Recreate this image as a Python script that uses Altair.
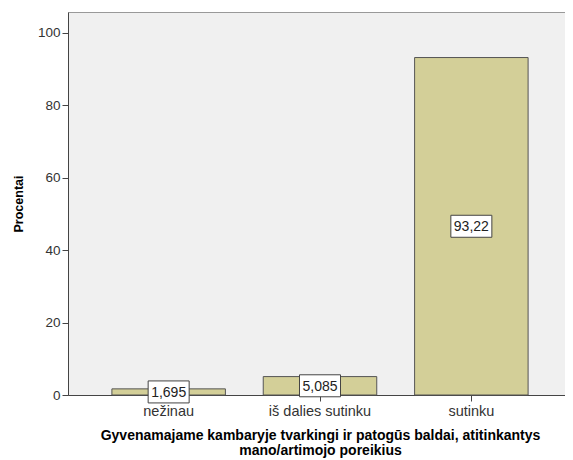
import altair as alt
import pandas as pd

categories = ["nežinau", "iš dalies sutinku", "sutinku"]
values = [1.695, 5.085, 93.22]
labels = ["1,695", "5,085", "93,22"]

df = pd.DataFrame({"cat": categories, "val": values, "lab": labels})
df["mid"] = df["val"] / 2

x_scale = alt.Scale(paddingInner=0.25, paddingOuter=0.29, range=[0, 504])

x_enc = alt.X(
    "cat:N",
    sort=categories,
    scale=x_scale,
    axis=alt.Axis(
        title=["Gyvenamajame kambaryje tvarkingi ir patogūs baldai, atitinkantys",
               "mano/artimojo poreikius"],
        labelAngle=0,
        labelFontSize=14.5,
        labelColor="#333333",
        labelPadding=3,
        tickSize=6,
        tickColor="#444444",
        domainColor="#444444",
        titleFontSize=14,
        titleFontWeight="bold",
        titleColor="#000000",
        titlePadding=11,
        titleLineHeight=14.5,
    ),
)
y_scale = alt.Scale(domain=[0, 105.8], nice=False, zero=True)

bars = alt.Chart(df).mark_bar(
    color="#D3CF98", stroke="#555555", strokeWidth=1
).encode(
    x=x_enc,
    y=alt.Y(
        "val:Q",
        scale=y_scale,
        axis=alt.Axis(
            title="Procentai",
            values=[0, 20, 40, 60, 80, 100],
            grid=False,
            labelFontSize=13.5,
            labelColor="#333333",
            labelPadding=2,
            tickSize=6,
            tickColor="#444444",
            domainColor="#444444",
            titleFontSize=12.5,
            titleFontWeight="bold",
            titleColor="#000000",
            titlePadding=12,
        ),
    ),
)

boxes = alt.Chart(df).mark_bar(
    width=41, fill="white", stroke="#444444", strokeWidth=1,
    yOffset=11, y2Offset=-11,
).encode(
    x=alt.X("cat:N", sort=categories, scale=x_scale),
    y=alt.Y("mid:Q", scale=y_scale),
    y2="mid:Q",
)

texts = alt.Chart(df).mark_text(
    fontSize=14, color="#222222", baseline="middle", align="center", dy=1
).encode(
    x=alt.X("cat:N", sort=categories, scale=x_scale),
    y=alt.Y("mid:Q", scale=y_scale),
    text="lab:N",
)

chart = (
    alt.layer(bars, boxes, texts)
    .properties(
        width=497,
        height=383,
        autosize=alt.AutoSizeParams(type="none"),
        padding={"left": 60, "top": 4, "right": 0, "bottom": 66},
        background="white",
    )
    .configure_view(fill="#F0F0F0", stroke="#999999", strokeWidth=1)
    .configure_axis(labelFont="Liberation Sans", titleFont="Liberation Sans")
    .configure_text(font="Liberation Sans")
)

chart.save("out.html", embed_options={"renderer": "svg", "actions": False})
